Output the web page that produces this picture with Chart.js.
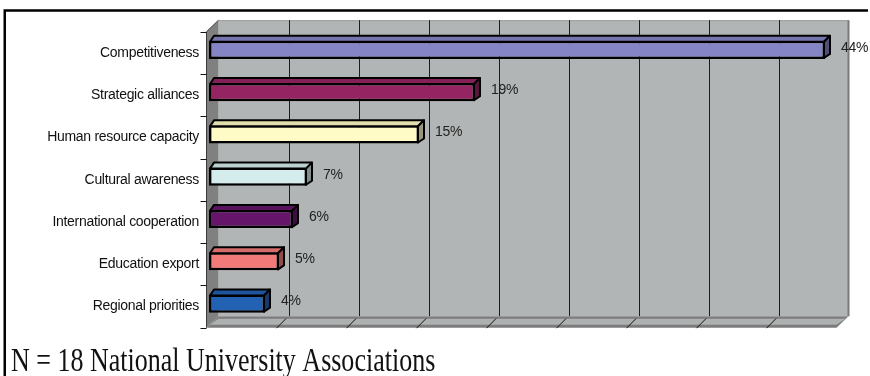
<!DOCTYPE html>
<html>
<head>
<meta charset="utf-8">
<script src="https://cdn.jsdelivr.net/npm/chart.js@4/dist/chart.umd.min.js"></script>
<style>
  html, body { margin: 0; padding: 0; background: #fff; }
  #wrap { width: 870px; height: 376px; position: relative; }
</style>
</head>
<body>
<div id="wrap"><canvas id="c" width="870" height="376"></canvas></div>
<script>
// Survey data: share of associations naming each rationale
const categories = [
  'Competitiveness',
  'Strategic alliances',
  'Human resource capacity',
  'Cultural awareness',
  'International cooperation',
  'Education export',
  'Regional priorities'
];
const shares = [44, 19, 15, 7, 6, 5, 4];
const barColors = ['#8585C6', '#952463', '#FFFBC6', '#D4ECEC', '#65166A', '#F27B7A', '#2361B2'];
const axisMax = 45;
const axisStep = 5;
const caption = 'N = 18 National University Associations';

// 3-D box geometry, relative to the plane the bar fronts sit in
const BACK = { x: 9.5, y: -8.5 };
const FRONT = { x: -2.5, y: 3 };
const BAR_DEPTH = 5;

function shade(hex, f) {
  const n = parseInt(hex.slice(1), 16);
  const r = Math.round(((n >> 16) & 255) * f);
  const g = Math.round(((n >> 8) & 255) * f);
  const b = Math.round((n & 255) * f);
  return `rgb(${r},${g},${b})`;
}

function poly(ctx, pts, fill, stroke, lw) {
  ctx.beginPath();
  ctx.moveTo(pts[0][0], pts[0][1]);
  for (let i = 1; i < pts.length; i++) ctx.lineTo(pts[i][0], pts[i][1]);
  ctx.closePath();
  if (fill) { ctx.fillStyle = fill; ctx.fill(); }
  if (stroke) { ctx.strokeStyle = stroke; ctx.lineWidth = lw || 1; ctx.stroke(); }
}

const box3d = {
  id: 'box3d',
  beforeDraw(chart) {
    chart.ctx.letterSpacing = '-0.3px';
  },
  beforeDatasetsDraw(chart) {
    const ctx = chart.ctx;
    const { top, bottom } = chart.chartArea;
    const xs = chart.scales.x;
    const x0 = xs.getPixelForValue(0);
    const x1 = xs.getPixelForValue(axisMax);
    ctx.save();

    // back wall
    ctx.fillStyle = '#B2B5B5';
    ctx.fillRect(x0 + BACK.x, top + BACK.y, x1 - x0, bottom - top);
    ctx.strokeStyle = '#9a9d9d';
    ctx.lineWidth = 1;
    ctx.beginPath();
    ctx.moveTo(x0 + BACK.x, top + BACK.y + 0.5);
    ctx.lineTo(x1 + BACK.x, top + BACK.y + 0.5);
    ctx.stroke();
    ctx.strokeStyle = '#7a7a7a';
    ctx.lineWidth = 2;
    ctx.beginPath();
    ctx.moveTo(x1 + BACK.x, top + BACK.y);
    ctx.lineTo(x1 + BACK.x, bottom + BACK.y);
    ctx.stroke();

    // vertical gridlines
    ctx.strokeStyle = '#1c1c1c';
    ctx.lineWidth = 1;
    for (let v = axisStep; v < axisMax; v += axisStep) {
      const px = Math.round(xs.getPixelForValue(v) + BACK.x) + 0.5;
      ctx.beginPath();
      ctx.moveTo(px, top + BACK.y);
      ctx.lineTo(px, bottom + BACK.y);
      ctx.stroke();
    }

    // floor
    const fl = [
      [x0 + FRONT.x, bottom + FRONT.y],
      [x0 + BACK.x, bottom + BACK.y],
      [x1 + BACK.x, bottom + BACK.y],
      [x1 + FRONT.x, bottom + FRONT.y]
    ];
    poly(ctx, fl, '#7c7c7c');
    poly(ctx, [
      [x0 + FRONT.x + 3, bottom + FRONT.y - 3],
      [x0 + BACK.x, bottom + BACK.y + 2.5],
      [x1 + BACK.x - 3, bottom + BACK.y + 2.5],
      [x1 + FRONT.x, bottom + FRONT.y - 3]
    ], '#AEB1B1');

    // left side wall
    poly(ctx, [
      [x0 + FRONT.x, top + FRONT.y],
      [x0 + BACK.x, top + BACK.y],
      [x0 + BACK.x, bottom + BACK.y],
      [x0 + FRONT.x, bottom + FRONT.y]
    ], '#808080');
    ctx.strokeStyle = '#3a3a3a';
    ctx.lineWidth = 1;
    ctx.beginPath();
    ctx.moveTo(x0 + FRONT.x, bottom + FRONT.y);
    ctx.lineTo(x0 + FRONT.x, top + FRONT.y);
    ctx.lineTo(x0 + BACK.x, top + BACK.y);
    ctx.stroke();

    // tick marks across the floor's front edge
    ctx.strokeStyle = '#111';
    ctx.lineWidth = 1;
    for (let v = axisStep; v < axisMax; v += axisStep) {
      const xf = xs.getPixelForValue(v) + FRONT.x;
      ctx.beginPath();
      ctx.moveTo(xf, bottom + FRONT.y + 0.5);
      ctx.lineTo(xf + 0.8 * (BACK.x - FRONT.x), bottom + FRONT.y + 0.8 * (BACK.y - FRONT.y));
      ctx.stroke();
    }

    // category tick marks on the vertical axis
    const n = categories.length;
    const band = (bottom - top) / n;
    for (let i = 0; i <= n; i++) {
      const yy = Math.round(top + FRONT.y + i * band) + 0.5;
      ctx.beginPath();
      ctx.moveTo(x0 + FRONT.x - 6, yy);
      ctx.lineTo(x0 + FRONT.x, yy);
      ctx.stroke();
    }
    ctx.restore();
  },
  afterDatasetsDraw(chart) {
    const ctx = chart.ctx;
    const meta = chart.getDatasetMeta(0);
    const d = BAR_DEPTH;
    ctx.save();
    ctx.lineJoin = 'round';
    meta.data.forEach((bar, i) => {
      const { x, y, base, height } = bar.getProps(['x', 'y', 'base', 'height'], true);
      const t = y - height / 2;
      const b = y + height / 2;
      const col = barColors[i];
      poly(ctx, [[base + 1, t + 1], [base + d, t - d], [x + d, t - d], [x - 1, t + 1]], shade(col, 0.88), '#000', 2);
      poly(ctx, [[x - 1, t + 1], [x + d, t - d], [x + d, b - d], [x - 1, b - 1]], shade(col, 0.6), '#000', 2);

      ctx.fillStyle = '#222';
      ctx.font = '14px "Liberation Sans", Arial, sans-serif';
      ctx.textAlign = 'left';
      ctx.textBaseline = 'middle';
      ctx.fillText(shares[i] + '%', x + 16, y - 2);
    });
    ctx.restore();
  },
  afterDraw(chart) {
    const ctx = chart.ctx;
    ctx.save();
    // frame
    ctx.strokeStyle = '#000';
    ctx.lineWidth = 2.5;
    ctx.beginPath();
    ctx.moveTo(4.75, 376);
    ctx.lineTo(4.75, 10.5);
    ctx.lineTo(868, 10.5);
    ctx.stroke();
    // caption
    ctx.letterSpacing = '0px';
    ctx.fillStyle = '#111';
    ctx.font = '34px "Liberation Serif", "Times New Roman", serif';
    ctx.textAlign = 'left';
    ctx.textBaseline = 'alphabetic';
    ctx.translate(11, 371);
    ctx.scale(0.765, 1);
    ctx.fillText(caption, 0, 0);
    ctx.restore();
  }
};

new Chart(document.getElementById('c'), {
  type: 'bar',
  data: {
    labels: categories,
    datasets: [{
      data: shares,
      backgroundColor: barColors,
      borderColor: '#000',
      borderWidth: 2.5,
      borderSkipped: false,
      barPercentage: 0.43,
      categoryPercentage: 1
    }]
  },
  options: {
    indexAxis: 'y',
    responsive: false,
    animation: false,
    devicePixelRatio: 1,
    layout: { padding: { left: 0, right: 31, top: 28.7, bottom: 51.3 } },
    plugins: { legend: { display: false }, tooltip: { enabled: false } },
    scales: {
      x: {
        display: false,
        min: 0,
        max: axisMax,
        ticks: { stepSize: axisStep }
      },
      y: {
        grid: { display: false, drawTicks: false },
        border: { display: false },
        ticks: {
          color: '#111',
          padding: 10,
          labelOffset: 3,
          autoSkip: false,
          font: { family: '"Liberation Sans", Arial, sans-serif', size: 14 }
        },
        afterFit(scale) { scale.width = 209; }
      }
    }
  },
  plugins: [box3d]
});
</script>
</body>
</html>
